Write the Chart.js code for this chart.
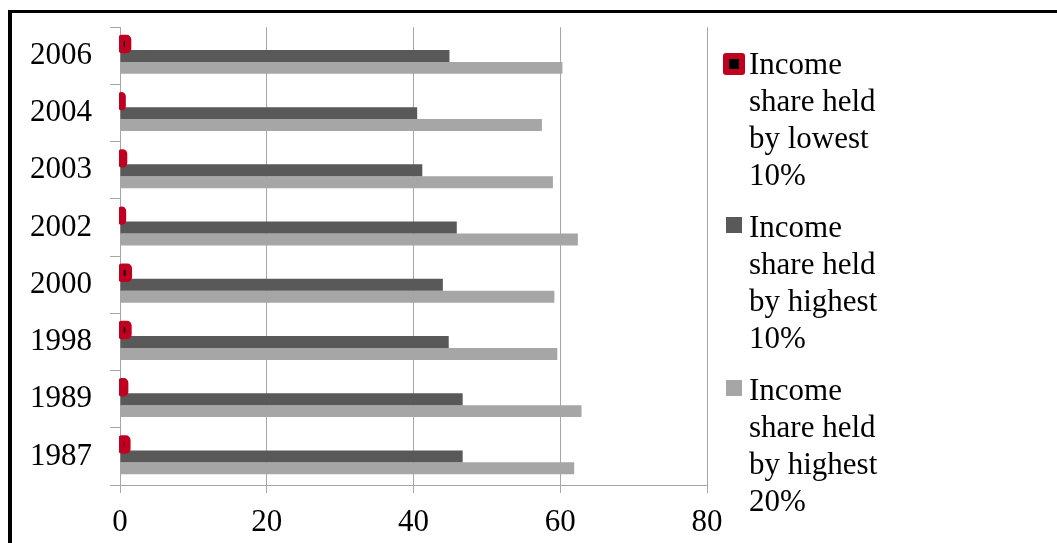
<!DOCTYPE html>
<html>
<head>
<meta charset="utf-8">
<script src="https://cdn.jsdelivr.net/npm/chart.js@4.4.1/dist/chart.umd.min.js"></script>
<style>
  html, body { margin: 0; padding: 0; background: #fff; }
  #wrap { position: relative; width: 1057px; height: 543px; overflow: hidden; background: #fff; }
  #c { position: absolute; left: 0; top: 0; }
  #frame { position: absolute; left: 8px; top: 10px; width: 1100px; height: 600px;
           border-top: 3px solid #000; border-left: 4px solid #000; pointer-events: none; }
  .lg-text { position: absolute; left: 749px; font-family: 'Liberation Serif', 'Times New Roman', serif;
             font-size: 31px; line-height: 37px; color: #000; white-space: nowrap; }
  .lg-box { position: absolute; box-sizing: border-box; }
</style>
</head>
<body>
<div id="wrap">
  <canvas id="c" width="1057" height="543"></canvas>
  <div id="frame"></div>
  <div id="legend"></div>
</div>
<script>
const categories = ['2006', '2004', '2003', '2002', '2000', '1998', '1989', '1987'];
const lowest10  = [1.1, 0.35, 0.55, 0.4, 1.2, 1.15, 0.7, 1.0];
const highest10 = [44.9, 40.5, 41.2, 45.9, 44.0, 44.8, 46.7, 46.7];
const highest20 = [60.3, 57.5, 59.0, 62.4, 59.2, 59.6, 62.9, 61.9];
const seriesNames = [
  ['Income', 'share held', 'by lowest', '10%'],
  ['Income', 'share held', 'by highest', '10%'],
  ['Income', 'share held', 'by highest', '20%']
];
const xMin = 0, xMax = 80, xStep = 20;

const RED = '#c00020';
const DARK = '#595959';
const LIGHT = '#a6a6a6';
const GRID = '#a6a6a6';
const FONT = { family: "'Liberation Serif', 'Times New Roman', serif", size: 31 };
const YFONT = { family: "'Liberation Serif', 'Times New Roman', serif", size: 31, lineHeight: 0.6 };

const redBars = {
  id: 'redBars',
  afterDatasetsDraw(chart) {
    const ctx = chart.ctx;
    const area = chart.chartArea;
    const meta = chart.getDatasetMeta(0);
    ctx.save();
    ctx.beginPath();
    ctx.rect(area.left - 1, area.top - 10, area.right - area.left + 1, area.bottom - area.top + 20);
    ctx.clip();
    meta.data.forEach(el => {
      const p = el.getProps(['x', 'y', 'base', 'height'], true);
      ctx.beginPath();
      ctx.roundRect(p.base, p.y - p.height / 2, p.x - p.base, p.height, 1.5);
      ctx.fillStyle = '#000';
      ctx.fill();
      ctx.lineWidth = 6.5;
      ctx.lineJoin = 'round';
      ctx.strokeStyle = RED;
      ctx.stroke();
    });
    ctx.restore();
  }
};

new Chart(document.getElementById('c'), {
  type: 'bar',
  data: {
    labels: categories,
    datasets: [
      { label: seriesNames[0].join(' '), data: lowest10, backgroundColor: 'rgba(0,0,0,0)', borderWidth: 0 },
      { label: seriesNames[1].join(' '), data: highest10, backgroundColor: DARK, borderWidth: 0 },
      { label: seriesNames[2].join(' '), data: highest20, backgroundColor: LIGHT, borderWidth: 0 }
    ]
  },
  options: {
    indexAxis: 'y',
    responsive: false,
    animation: false,
    devicePixelRatio: 1,
    layout: { padding: { left: 0, right: 350, top: 25, bottom: 0 } },
    datasets: { bar: { categoryPercentage: 0.626, barPercentage: 1.0 } },
    plugins: { legend: { display: false }, tooltip: { enabled: false } },
    scales: {
      x: {
        min: xMin, max: xMax,
        ticks: { stepSize: xStep, font: FONT, color: '#000', padding: 11, maxRotation: 0 },
        grid: { color: GRID, tickLength: 8, lineWidth: 1 },
        border: { display: true, color: GRID },
        afterFit(s) { s.height = 58; }
      },
      y: {
        ticks: { font: YFONT, color: '#000', padding: 18 },
        grid: { offset: true, drawOnChartArea: false, drawTicks: true, tickLength: 10, color: GRID },
        border: { display: true, color: GRID },
        afterFit(s) { s.width = 120; }
      }
    }
  },
  plugins: [redBars]
});

// HTML legend
const legend = document.getElementById('legend');
const legendTops = [45, 208, 371];
const boxes = [
  { left: 723, top: 53, size: 22, style: 'background:#000;border:6px solid ' + RED + ';border-radius:3px;' },
  { left: 726, top: 217, size: 16, style: 'background:' + DARK + ';' },
  { left: 726, top: 380, size: 16, style: 'background:' + LIGHT + ';' }
];
seriesNames.forEach((lines, i) => {
  const b = document.createElement('div');
  b.className = 'lg-box';
  b.style.cssText = 'left:' + boxes[i].left + 'px;top:' + boxes[i].top + 'px;width:' + boxes[i].size + 'px;height:' + boxes[i].size + 'px;' + boxes[i].style;
  legend.appendChild(b);
  const t = document.createElement('div');
  t.className = 'lg-text';
  t.style.top = legendTops[i] + 'px';
  t.innerHTML = lines.join('<br>');
  legend.appendChild(t);
});
</script>
</body>
</html>
